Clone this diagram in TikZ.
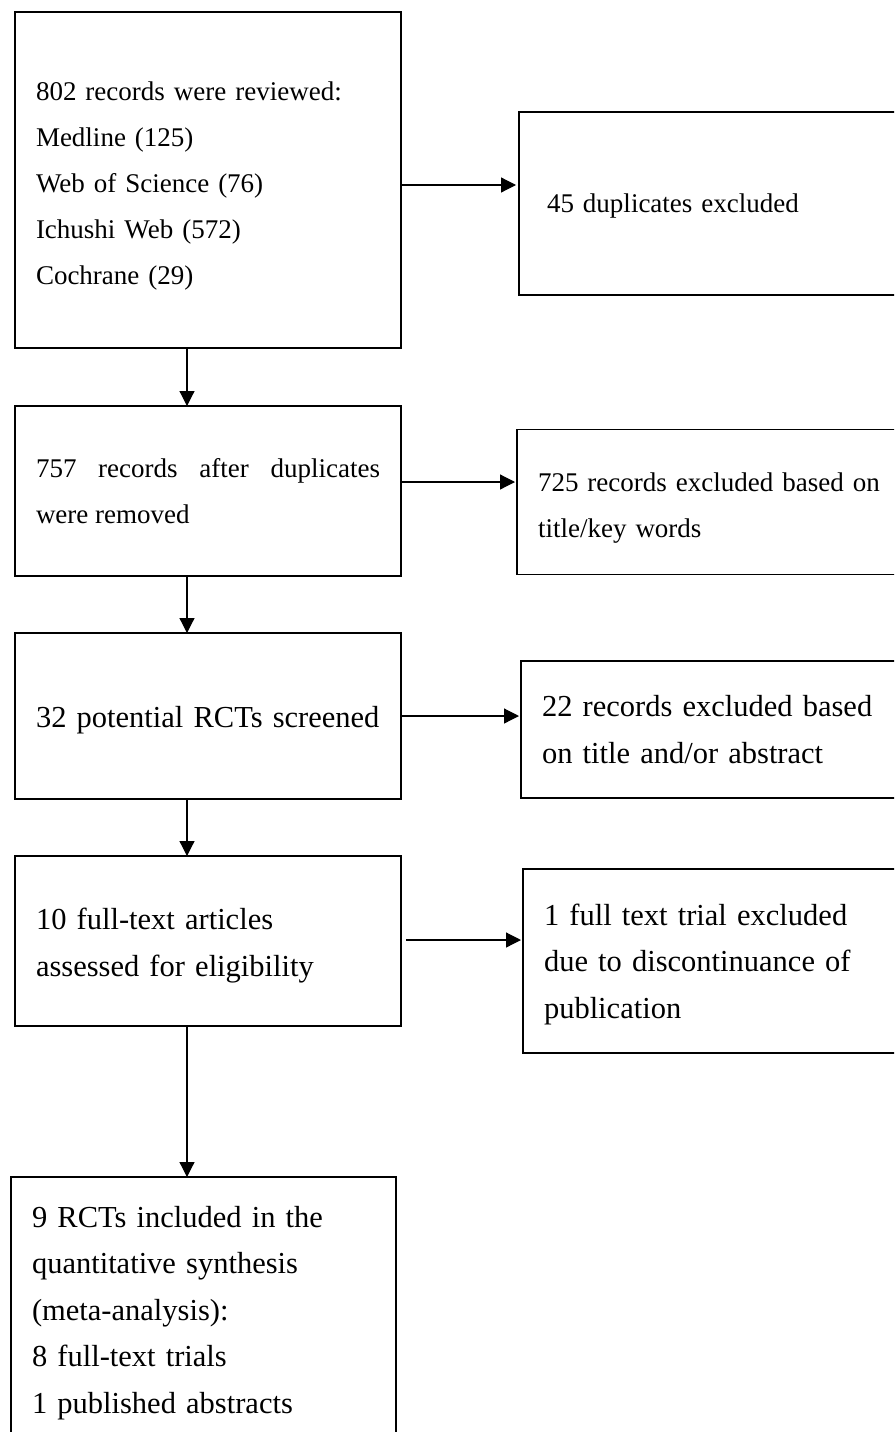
\documentclass[tikz,border=0pt]{standalone}
\usepackage{fontspec}
\setmainfont{Liberation Serif}
\usetikzlibrary{arrows.meta, positioning}

\begin{document}
\begin{tikzpicture}[
    box/.style={draw, line width=1.8pt, outer sep=0pt, inner xsep=21pt, inner ysep=0pt, minimum width=386pt},
    flowbox/.style={box, text width=344pt, align=left},
    sidebox/.style={box, minimum width=430pt, text width=388pt, align=left},
    small/.style={font={\fontsize{27}{46}\selectfont}},
    large/.style={font={\fontsize{30.5}{46.5}\selectfont}},
    lower/.style={execute at begin node={\rule{0pt}{#1}}},
    arrow/.style={-{Triangle[length=15pt, width=15pt]}, line width=1.2pt}
]

% frame of the picture
\useasboundingbox (0,0) rectangle (894pt,-1432pt);
\clip (0,0) rectangle (894pt,-1432pt);

% --- Main column ---
\node[flowbox, small, lower=30.5pt, minimum height=336pt] (records) at (208pt,-180pt)
  {802 records were reviewed:\\Medline (125)\\Web of Science (76)\\Ichushi Web (572)\\Cochrane (29)};
\node[box, small, text width=344pt, align=justify, minimum height=170pt, below=58pt of records] (dedup)
  {757 records after duplicates\linebreak were removed};
\node[flowbox, large, lower=28.8pt, minimum height=166pt, below=57pt of dedup] (screened)
  {32 potential RCTs screened};
\node[flowbox, large, lower=30.8pt, minimum height=170pt, below=57pt of screened] (fulltext)
  {10 full-text articles\\assessed for eligibility};
\node[flowbox, large, lower=26.8pt, minimum width=385pt, text width=343pt, minimum height=266pt, below=151pt of fulltext, xshift=-4.5pt] (included)
  {9 RCTs included in the\\quantitative synthesis\\(meta-analysis):\\8 full-text trials\\1 published abstracts};

% --- Exclusions ---
\node[sidebox, small, lower=24.4pt, inner xsep=28pt, text width=374pt, minimum height=183pt, right=118pt of records, yshift=-23.5pt] (dups)
  {45 duplicates excluded};
\node[sidebox, small, lower=30.4pt, minimum height=145pt, right=116pt of dedup, yshift=-11pt] (keywords)
  {725 records excluded based on\\title/key words};
\node[sidebox, large, minimum height=137pt, right=120pt of screened, yshift=-13.5pt] (abstract)
  {22 records excluded based\\on title and/or abstract};
\node[sidebox, large, lower=27.8pt, minimum height=184pt, right=122pt of fulltext, yshift=-20pt] (discont)
  {1 full text trial excluded\\due to discontinuance of\\publication};

% Arrows down
\draw[arrow] ([xshift=-21pt]records.south) -- ([xshift=-21pt]dedup.north);
\draw[arrow] ([xshift=-21pt]dedup.south) -- ([xshift=-21pt]screened.north);
\draw[arrow] ([xshift=-21pt]screened.south) -- ([xshift=-21pt]fulltext.north);
\draw[arrow] ([xshift=-21pt]fulltext.south) -- ([xshift=-21pt]fulltext.south |- included.north);

% Arrows right
\draw[arrow] ([yshift=-5pt]records.east) -- ([xshift=-3pt,yshift=-5pt]records.east -| dups.west);
\draw[arrow] ([yshift=9pt]dedup.east) -- ([xshift=-2pt,yshift=9pt]dedup.east -| keywords.west);
\draw[arrow] (screened.east) -- ([xshift=-2pt]screened.east -| abstract.west);
\draw[arrow] ([xshift=5pt,yshift=1pt]fulltext.east) -- ([xshift=-2pt,yshift=1pt]fulltext.east -| discont.west);

\end{tikzpicture}
\end{document}
